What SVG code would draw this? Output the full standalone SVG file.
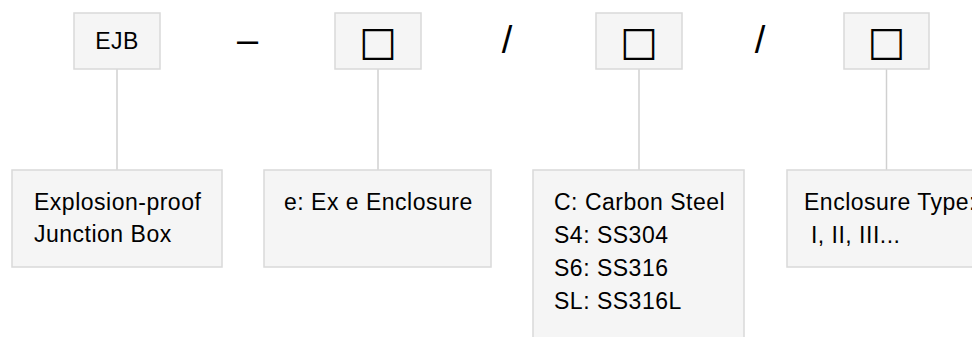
<svg xmlns="http://www.w3.org/2000/svg" width="972" height="337" viewBox="0 0 972 337">
<style>
.box{fill:#f5f5f5;stroke:#d9d9d9;stroke-width:1.5}
.t{font-family:"Liberation Sans",Arial,sans-serif;font-size:23px;letter-spacing:0.5px;fill:#000}
.sym{font-family:"Liberation Sans",Arial,sans-serif;font-size:38px;fill:#000}
.sq{font-family:"DejaVu Sans",sans-serif;font-size:40px;fill:#000}
.conn line{stroke:#d0d0d0;stroke-width:1.5}
</style>
<rect width="972" height="337" fill="#ffffff"/>
<g class="conn" id="connectors">
<line x1="117" y1="69" x2="117" y2="170"/>
<line x1="378" y1="69" x2="378" y2="170"/>
<line x1="639" y1="69" x2="639" y2="170"/>
<line x1="886.5" y1="69" x2="886.5" y2="170"/>
</g>
<g id="seg-ejb">
<rect class="box" x="74" y="13" width="86" height="56"/>
<text class="t" x="117" y="49" text-anchor="middle">EJB</text>
</g>
<g id="sep-dash"><text class="sym" x="247.5" y="53" text-anchor="middle">–</text></g>
<g id="seg-2">
<rect class="box" x="335" y="13" width="86" height="56"/>
<text class="sq" x="378" y="55" text-anchor="middle">□</text>
</g>
<g id="sep-slash1"><text class="sym" x="507" y="53" text-anchor="middle">/</text></g>
<g id="seg-3">
<rect class="box" x="596" y="13" width="86" height="56"/>
<text class="sq" x="639" y="55" text-anchor="middle">□</text>
</g>
<g id="sep-slash2"><text class="sym" x="760" y="53" text-anchor="middle">/</text></g>
<g id="seg-4">
<rect class="box" x="844" y="13" width="85" height="56"/>
<text class="sq" x="886.5" y="55" text-anchor="middle">□</text>
</g>
<g id="desc-1">
<rect class="box" x="12" y="170" width="210" height="97"/>
<text class="t" x="34" y="210">Explosion-proof</text>
<text class="t" x="34" y="242">Junction Box</text>
</g>
<g id="desc-2">
<rect class="box" x="264" y="170" width="227" height="97"/>
<text class="t" x="284" y="210">e: Ex e Enclosure</text>
</g>
<g id="desc-3">
<rect class="box" x="533" y="170" width="211" height="190"/>
<text class="t" x="554" y="210">C: Carbon Steel</text>
<text class="t" x="554" y="243">S4: SS304</text>
<text class="t" x="554" y="276">S6: SS316</text>
<text class="t" x="554" y="309">SL: SS316L</text>
</g>
<g id="desc-4">
<rect class="box" x="787" y="170" width="215" height="97"/>
<text class="t" x="804" y="210">Enclosure Type:</text>
<text class="t" x="804" y="243" style="white-space:pre"> I, II, III...</text>
</g>
</svg>
